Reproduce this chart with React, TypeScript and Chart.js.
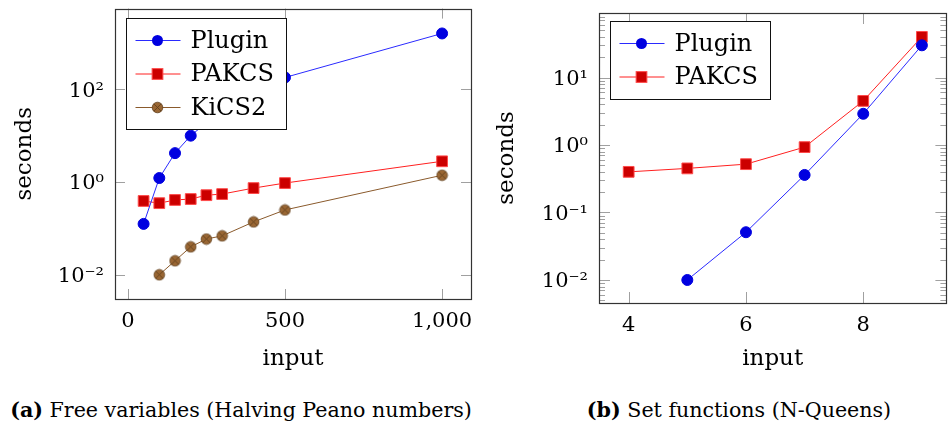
import React, { useEffect, useRef } from "react";
import { Chart, registerables } from "chart.js";
Chart.register(...registerables);

// ---------- data ----------
const leftPluginX = [50, 100, 150, 200, 250, 300, 400, 500, 1000];
const leftPluginY = [0.125, 1.22, 4.2, 10, 19, 35, 85, 180, 1600];
const leftPakcsX = [50, 100, 150, 200, 250, 300, 400, 500, 1000];
const leftPakcsY = [0.39, 0.35, 0.41, 0.43, 0.52, 0.55, 0.74, 0.95, 2.8];
const leftKics2X = [100, 150, 200, 250, 300, 400, 500, 1000];
const leftKics2Y = [0.01, 0.02, 0.04, 0.059, 0.069, 0.138, 0.25, 1.4];
const leftXTicks = [0, 500, 1000];
const leftXTickLabels = ["0", "500", "1,000"];
const leftYTicks = [0.01, 1, 100];
const leftYTickLabels = ["10⁻²", "10⁰", "10²"];

const rightPluginX = [5, 6, 7, 8, 9];
const rightPluginY = [0.01, 0.051, 0.36, 2.9, 30];
const rightPakcsX = [4, 5, 6, 7, 8, 9];
const rightPakcsY = [0.4, 0.45, 0.52, 0.93, 4.5, 40];
const rightXTicks = [4, 6, 8];
const rightXTickLabels = ["4", "6", "8"];
const rightYTicks = [0.01, 0.1, 1, 10];
const rightYTickLabels = ["10⁻²", "10⁻¹", "10⁰", "10¹"];

const seriesNames = ["Plugin", "PAKCS", "KiCS2"];
const captionA = ["(a)", " Free variables (Halving Peano numbers)"];
const captionB = ["(b)", " Set functions (N-Queens)"];

const FONT = "'DejaVu Serif', serif";

function makeOtimes(r: number, fill: string, stroke: string) {
  const c = document.createElement("canvas");
  const s = Math.ceil(r * 2 + 2);
  c.width = s;
  c.height = s;
  const ctx = c.getContext("2d")!;
  const cx = s / 2;
  ctx.beginPath();
  ctx.arc(cx, cx, r, 0, Math.PI * 2);
  ctx.fillStyle = fill;
  ctx.fill();
  ctx.strokeStyle = stroke;
  ctx.lineWidth = 0.8;
  ctx.stroke();
  const d = r * 0.707;
  ctx.beginPath();
  ctx.moveTo(cx - d, cx - d);
  ctx.lineTo(cx + d, cx + d);
  ctx.moveTo(cx + d, cx - d);
  ctx.lineTo(cx - d, cx + d);
  ctx.stroke();
  return c;
}

function pts(xs: number[], ys: number[]) {
  return xs.map((x, i) => ({ x, y: ys[i] }));
}

function pluginDs(xs: number[], ys: number[]) {
  return {
    label: seriesNames[0],
    data: pts(xs, ys),
    borderColor: "#2a2aff",
    borderWidth: 1,
    pointStyle: "circle",
    pointRadius: 5.5,
    pointBackgroundColor: "#0000e0",
    pointBorderColor: "#0000e0",
    pointBorderWidth: 1,
  };
}
function pakcsDs(xs: number[], ys: number[]) {
  return {
    label: seriesNames[1],
    data: pts(xs, ys),
    borderColor: "#ff2020",
    borderWidth: 1,
    pointStyle: "rect",
    pointRadius: 7.6,
    pointBackgroundColor: "#cc0000",
    pointBorderColor: "#ff4a4a",
    pointBorderWidth: 1,
  };
}
function kicsDs(xs: number[], ys: number[]) {
  return {
    label: seriesNames[2],
    data: pts(xs, ys),
    borderColor: "#8a5a2c",
    borderWidth: 1,
    pointStyle: makeOtimes(5.3, "#996633", "#5e3d1c"),
    pointRadius: 5.3,
    pointBackgroundColor: "#996633",
    pointBorderColor: "#5e3d1c",
  };
}

function framePlugin(o: any) {
  return {
    id: "frame",
    beforeDatasetsDraw(chart: any) {
      const { ctx, chartArea: a, scales } = chart;
      const xs = scales.x;
      const ys = scales.y;
      ctx.save();
      ctx.strokeStyle = "#a0a0a0";
      ctx.lineWidth = 1;
      ctx.beginPath();
      const L = o.tickLen;
      for (const v of o.xMajor) {
        const p = Math.round(xs.getPixelForValue(v)) + 0.5;
        ctx.moveTo(p, a.top);
        ctx.lineTo(p, a.top + L);
        ctx.moveTo(p, a.bottom);
        ctx.lineTo(p, a.bottom - L);
      }
      for (const v of o.yMajor) {
        const p = Math.round(ys.getPixelForValue(v)) + 0.5;
        ctx.moveTo(a.left, p);
        ctx.lineTo(a.left + L, p);
        ctx.moveTo(a.right, p);
        ctx.lineTo(a.right - L, p);
      }
      if (o.yMinor) {
        const e0 = Math.floor(Math.log10(ys.min));
        const e1 = Math.ceil(Math.log10(ys.max));
        for (let e = e0; e <= e1; e++) {
          for (let k = 2; k <= 9; k++) {
            const v = k * Math.pow(10, e);
            if (v <= ys.min || v >= ys.max) continue;
            const p = Math.round(ys.getPixelForValue(v)) + 0.5;
            ctx.moveTo(a.left, p);
            ctx.lineTo(a.left + o.minorLen, p);
            ctx.moveTo(a.right, p);
            ctx.lineTo(a.right - o.minorLen, p);
          }
        }
      }
      ctx.stroke();
      ctx.strokeStyle = "#333";
      ctx.lineWidth = 1.2;
      ctx.strokeRect(
        Math.round(a.left) + 0.5,
        Math.round(a.top) + 0.5,
        Math.round(a.right - a.left),
        Math.round(a.bottom - a.top)
      );
      ctx.restore();
    },
  };
}

function legendPlugin(o: any) {
  return {
    id: "boxLegend",
    afterDatasetsDraw(chart: any) {
      const { ctx, chartArea: a } = chart;
      const dss = chart.data.datasets;
      ctx.save();
      ctx.font = `24px ${FONT}`;
      let maxW = 0;
      for (const d of dss) maxW = Math.max(maxW, ctx.measureText(d.label).width);
      const bx = Math.round(a.left + o.dx) + 0.5;
      const by = Math.round(a.top + o.dy) + 0.5;
      const bw = Math.round(64 + maxW + 13);
      const rowH = 33.5;
      const bh = Math.round(22 * 2 + rowH * (dss.length - 1));
      ctx.fillStyle = "#fff";
      ctx.fillRect(bx, by, bw, bh);
      ctx.strokeStyle = "#111";
      ctx.lineWidth = 1;
      ctx.strokeRect(bx, by, bw, bh);
      dss.forEach((d: any, i: number) => {
        const y = by + 22 + i * rowH;
        ctx.strokeStyle = d.borderColor;
        ctx.lineWidth = d.borderWidth;
        ctx.beginPath();
        ctx.moveTo(bx + 9, y);
        ctx.lineTo(bx + 54, y);
        ctx.stroke();
        const mx = bx + 31;
        if (d.pointStyle === "circle") {
          ctx.beginPath();
          ctx.arc(mx, y, d.pointRadius, 0, Math.PI * 2);
          ctx.fillStyle = d.pointBackgroundColor;
          ctx.fill();
        } else if (d.pointStyle === "rect") {
          const s = d.pointRadius * Math.SQRT1_2;
          ctx.fillStyle = d.pointBackgroundColor;
          ctx.fillRect(mx - s, y - s, 2 * s, 2 * s);
          ctx.strokeStyle = d.pointBorderColor;
          ctx.lineWidth = 1;
          ctx.strokeRect(mx - s, y - s, 2 * s, 2 * s);
        } else if (d.pointStyle instanceof HTMLCanvasElement) {
          const im = d.pointStyle;
          ctx.drawImage(im, mx - im.width / 2, y - im.height / 2);
        }
        ctx.fillStyle = "#000";
        ctx.textBaseline = "middle";
        ctx.textAlign = "left";
        ctx.fillText(d.label, bx + 64, y + 1);
      });
      ctx.restore();
    },
  };
}

function makeConfig(p: any) {
  return {
    type: "line",
    data: { datasets: p.datasets },
    options: {
      responsive: false,
      maintainAspectRatio: false,
      animation: false,
      layout: { padding: p.padding },
      plugins: { legend: { display: false }, tooltip: { enabled: false } },
      scales: {
        x: {
          type: "linear",
          min: p.xMin,
          max: p.xMax,
          grid: { display: false, drawTicks: false },
          border: { display: false },
          afterBuildTicks: (s: any) => {
            s.ticks = p.xTicks.map((v: number) => ({ value: v }));
          },
          afterFit: (s: any) => {
            s.height = p.xH;
            s.paddingLeft = 0;
            s.paddingRight = 0;
            s.paddingTop = 0;
            s.paddingBottom = 0;
          },
          ticks: {
            autoSkip: false,
            maxRotation: 0,
            padding: p.xPad,
            color: "#000",
            font: { family: FONT, size: 21 },
            callback: (_v: any, i: number) => p.xLabels[i],
          },
          title: {
            display: true,
            text: "input",
            color: "#000",
            font: { family: FONT, size: 23 },
            padding: { top: 0, bottom: p.xTitlePad },
          },
        },
        y: {
          type: "logarithmic",
          min: p.yMin,
          max: p.yMax,
          grid: { display: false, drawTicks: false },
          border: { display: false },
          afterBuildTicks: (s: any) => {
            s.ticks = p.yTicks.map((v: number) => ({ value: v, major: true }));
          },
          afterFit: (s: any) => {
            s.width = p.yW;
            s.paddingLeft = 0;
            s.paddingRight = 0;
            s.paddingTop = 0;
            s.paddingBottom = 0;
          },
          ticks: {
            autoSkip: false,
            padding: 11,
            labelOffset: 2,
            color: "#000",
            font: { family: FONT, size: 21 },
            callback: (_v: any, i: number) => p.yLabels[i],
          },
          title: {
            display: true,
            text: "seconds",
            color: "#000",
            font: { family: FONT, size: 23 },
            padding: { top: p.yTitlePad, bottom: 0 },
          },
        },
      },
    },
    plugins: [framePlugin(p.frame), legendPlugin(p.legend)],
  };
}

export default function App() {
  const leftRef = useRef<HTMLCanvasElement>(null);
  const rightRef = useRef<HTMLCanvasElement>(null);

  useEffect(() => {
    const left = new Chart(
      leftRef.current!,
      makeConfig({
        datasets: [
          pluginDs(leftPluginX, leftPluginY),
          pakcsDs(leftPakcsX, leftPakcsY),
          kicsDs(leftKics2X, leftKics2Y),
        ],
        padding: { top: 8, right: 9, left: 0, bottom: 0 },
        xMin: -41,
        xMax: 1092,
        yMin: 0.003,
        yMax: 5500,
        xTicks: leftXTicks,
        xLabels: leftXTickLabels,
        yTicks: leftYTicks,
        yLabels: leftYTickLabels,
        xH: 81,
        yW: 115,
        xPad: 10,
        xTitlePad: 7,
        yTitlePad: 11,
        frame: { xMajor: leftXTicks, yMajor: leftYTicks, tickLen: 10 },
        legend: { dx: 11, dy: 9 },
      }) as any
    );
    const right = new Chart(
      rightRef.current!,
      makeConfig({
        datasets: [pluginDs(rightPluginX, rightPluginY), pakcsDs(rightPakcsX, rightPakcsY)],
        padding: { top: 13, right: 5, left: 0, bottom: 0 },
        xMin: 3.494,
        xMax: 9.418,
        yMin: 0.00456,
        yMax: 90.3,
        xTicks: rightXTicks,
        xLabels: rightXTickLabels,
        yTicks: rightYTicks,
        yLabels: rightYTickLabels,
        xH: 77,
        yW: 119,
        xPad: 10,
        xTitlePad: 7,
        yTitlePad: 13,
        frame: { xMajor: rightXTicks, yMajor: rightYTicks, yMinor: true, tickLen: 11, minorLen: 6 },
        legend: { dx: 11, dy: 8 },
      }) as any
    );
    return () => {
      left.destroy();
      right.destroy();
    };
  }, []);

  return (
    <div
      style={{
        position: "absolute",
        left: 0,
        top: 0,
        width: 949,
        height: 430,
        overflow: "hidden",
        background: "#fff",
        fontFamily: FONT,
        color: "#000",
      }}
    >
      <canvas ref={leftRef} width={480} height={380} style={{ position: "absolute", left: 0, top: 0 }} />
      <canvas ref={rightRef} width={475} height={380} style={{ position: "absolute", left: 480, top: 0 }} />
      <div
        style={{
          position: "absolute",
          left: 0,
          top: 397,
          width: 482,
          textAlign: "center",
          fontSize: 20.6,
          lineHeight: "26px",
          whiteSpace: "nowrap",
        }}
      >
        <b>{captionA[0]}</b>
        {captionA[1]}
      </div>
      <div
        style={{
          position: "absolute",
          left: 489,
          top: 397,
          width: 500,
          textAlign: "center",
          fontSize: 20.6,
          lineHeight: "26px",
          whiteSpace: "nowrap",
        }}
      >
        <b>{captionB[0]}</b>
        {captionB[1]}
      </div>
    </div>
  );
}
